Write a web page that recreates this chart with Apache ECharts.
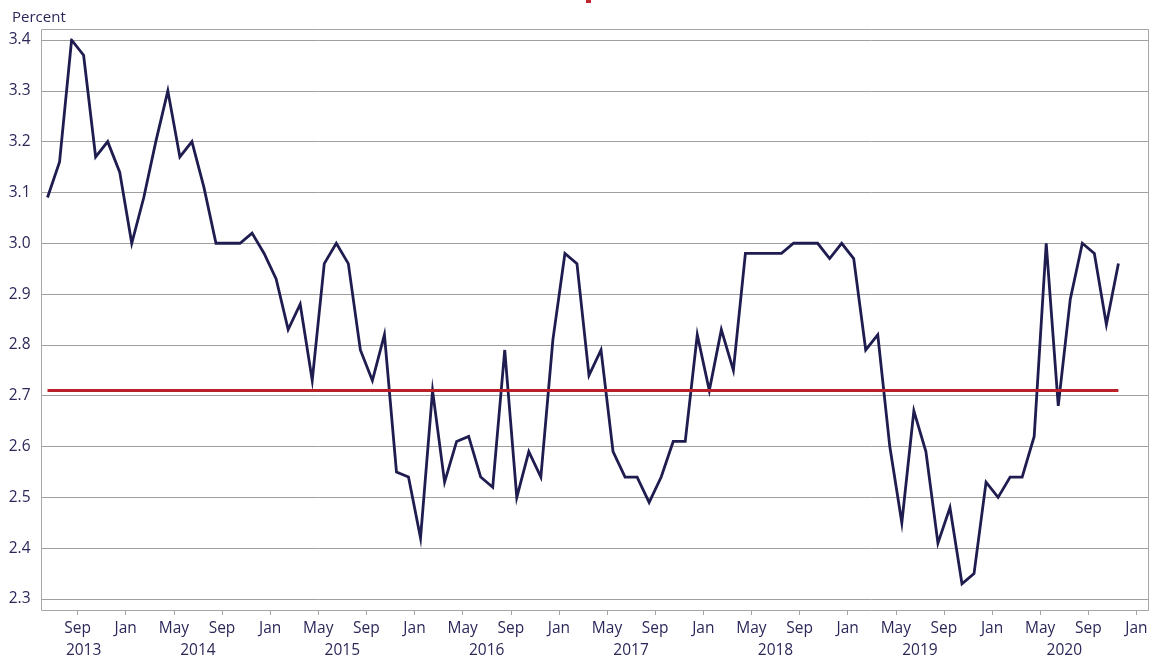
<!DOCTYPE html>
<html>
<head>
<meta charset="utf-8">
<script src="https://cdn.jsdelivr.net/npm/echarts@6/dist/echarts.min.js"></script>
<style>
  html, body { margin: 0; padding: 0; background: #ffffff; }
  #chart { width: 1153px; height: 661px; }
</style>
</head>
<body>
<div id="chart"></div>
<script>
// ---- data ----
const startYear = 2013;
const startMonth = 6;          // first observation: June 2013
const endSlotYear = 2021;      // axis runs through January 2021
const endSlotMonth = 1;
const values = [
  3.09, 3.16, 3.40, 3.37, 3.17, 3.20, 3.14,
  3.00, 3.09, 3.20, 3.30, 3.17, 3.20, 3.11, 3.00, 3.00, 3.00, 3.02, 2.98,
  2.93, 2.83, 2.88, 2.73, 2.96, 3.00, 2.96, 2.79, 2.73, 2.82, 2.55, 2.54,
  2.42, 2.71, 2.53, 2.61, 2.62, 2.54, 2.52, 2.79, 2.50, 2.59, 2.54, 2.81,
  2.98, 2.96, 2.74, 2.79, 2.59, 2.54, 2.54, 2.49, 2.54, 2.61, 2.61, 2.82,
  2.71, 2.83, 2.75, 2.98, 2.98, 2.98, 2.98, 3.00, 3.00, 3.00, 2.97, 3.00,
  2.97, 2.79, 2.82, 2.60, 2.45, 2.67, 2.59, 2.41, 2.48, 2.33, 2.35, 2.53,
  2.50, 2.54, 2.54, 2.62, 3.00, 2.68, 2.89, 3.00, 2.98, 2.84, 2.96
];
const referenceLevel = 2.71;
const monthNames = ['Jan','Feb','Mar','Apr','May','Jun','Jul','Aug','Sep','Oct','Nov','Dec'];
const tickMonthNames = ['Jan','May','Sep'];
const yearLabels = ['2013','2014','2015','2016','2017','2018','2019','2020'];
const yTickLabels = ['2.3','2.4','2.5','2.6','2.7','2.8','2.9','3.0','3.1','3.2','3.3','3.4'];

// categories (YYYY-MM) for each observation
const categories = values.map((v, i) => {
  const idx = (startMonth - 1) + i;
  const y = startYear + Math.floor(idx / 12);
  const m = idx % 12 + 1;
  return y + '-' + String(m).padStart(2, '0');
});

// month index since Jan of startYear; each month occupies [k, k+1)
function monthIndex(cat) {
  const [y, m] = cat.split('-').map(Number);
  return (y - startYear) * 12 + (m - 1);
}
const axisMin = startMonth - 1;
const axisMax = (endSlotYear - startYear) * 12 + (endSlotMonth - 1) + 1;

const seriesData = categories.map((c, i) => [monthIndex(c) + 0.5, values[i]]);

const tickValues = [];
for (let k = Math.ceil(axisMin); k <= axisMax; k++) {
  if (tickMonthNames.indexOf(monthNames[k % 12]) >= 0) tickValues.push(k);
}
const yearCenters = yearLabels.map(y => {
  const s = (Number(y) - startYear) * 12;
  return (Math.max(s, axisMin) + Math.min(s + 12, axisMax)) / 2;
});

const textColor = '#2b2859';
const fontFamily = '"Open Sans", "Noto Sans", sans-serif';

const chart = echarts.init(document.getElementById('chart'));
chart.setOption({
  animation: false,
  backgroundColor: '#ffffff',
  title: {
    text: 'Percent',
    left: 7, top: 5,
    textStyle: { color: textColor, fontSize: 15, fontWeight: 'normal', fontFamily: fontFamily }
  },
  grid: { left: 41.5, right: 1153 - 1148.5, top: 40, bottom: 661 - 599, containLabel: false },
  xAxis: [
    {
      type: 'value', min: axisMin, max: axisMax,
      offset: 11,
      axisLine: { show: false },
      axisTick: { show: true, length: 5, lineStyle: { color: '#a6a6a6' }, customValues: tickValues },
      splitLine: { show: false },
      axisLabel: {
        customValues: tickValues,
        margin: 11,
        color: textColor, fontSize: 15.5, fontFamily: fontFamily,
        formatter: v => monthNames[Math.round(v) % 12]
      }
    },
    {
      type: 'value', min: axisMin, max: axisMax,
      position: 'bottom', offset: 36,
      axisLine: { show: false },
      axisTick: { show: false },
      splitLine: { show: false },
      axisLabel: {
        customValues: yearCenters,
        margin: 8,
        color: textColor, fontSize: 15.5, fontFamily: fontFamily,
        formatter: v => yearLabels[yearCenters.findIndex(c => Math.abs(c - v) < 1e-6)]
      }
    }
  ],
  yAxis: {
    type: 'value', min: 2.3, max: 3.4, interval: 0.1,
    axisLine: { show: false },
    axisTick: { show: false },
    splitLine: { show: true, lineStyle: { color: '#a0a0a0', width: 1 } },
    axisLabel: {
      margin: 11, color: textColor, fontSize: 15.5, fontFamily: fontFamily,
      formatter: v => yTickLabels[Math.round((v - 2.3) * 10)]
    }
  },
  graphic: [
    {
      type: 'rect', z: 0, silent: true,
      shape: { x: 41.5, y: 29.5, width: 1107, height: 581 },
      style: { fill: 'none', stroke: '#a6a6a6', lineWidth: 1 }
    },
    {
      type: 'rect', silent: true,
      shape: { x: 586, y: 0, width: 5, height: 3 },
      style: { fill: '#c0282d' }
    }
  ],
  series: [
    {
      type: 'line',
      data: seriesData,
      symbol: 'none',
      lineStyle: { color: '#1f1c50', width: 2.8, join: 'miter' },
      z: 3
    },
    {
      type: 'line',
      data: [],
      z: 4,
      markLine: {
        silent: true,
        symbol: 'none',
        label: { show: false },
        lineStyle: { color: '#bb2128', width: 3, type: 'solid' },
        data: [[
          { coord: [seriesData[0][0], referenceLevel] },
          { coord: [seriesData[seriesData.length - 1][0], referenceLevel] }
        ]]
      }
    }
  ]
});
</script>
</body>
</html>
